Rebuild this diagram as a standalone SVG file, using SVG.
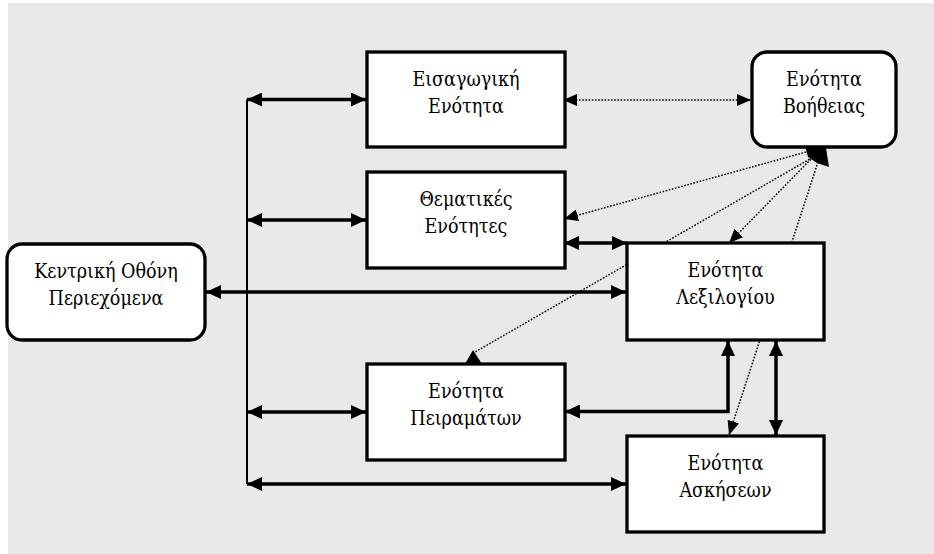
<svg xmlns="http://www.w3.org/2000/svg" width="934" height="554" viewBox="0 0 934 554">
<defs>
<style>
.box{fill:#fff;stroke:#000;stroke-width:3.3}
.t{font-family:"DejaVu Serif Condensed","DejaVu Serif",serif;font-stretch:condensed;font-size:19.5px;fill:#000;text-anchor:middle}
.s{fill:none;stroke:#000;stroke-width:3.5}
.d{fill:none;stroke:#000;stroke-width:1.5;stroke-dasharray:1.6 1.6}
</style>
<marker id="ah" markerUnits="userSpaceOnUse" markerWidth="15" markerHeight="14" refX="15" refY="7" orient="auto-start-reverse" viewBox="0 0 15 14">
<path d="M0,0 L15,7 L0,14 z" fill="#000"/>
</marker>
<marker id="dh" markerUnits="userSpaceOnUse" markerWidth="14" markerHeight="12" refX="14" refY="6" orient="auto-start-reverse" viewBox="0 0 14 12">
<path d="M0,0 L14,6 L0,12 z" fill="#000"/>
</marker>
</defs>
<rect x="8" y="3" width="926" height="551" fill="#e9e9e9"/>
<g id="connectors">
<line class="s" x1="247" y1="99.5" x2="247" y2="484" style="stroke-width:2"/>
<line class="s" x1="247" y1="99.5" x2="366" y2="99.5" marker-start="url(#ah)" marker-end="url(#ah)"/>
<line class="s" x1="247" y1="220" x2="366" y2="220" marker-start="url(#ah)" marker-end="url(#ah)"/>
<line class="s" x1="247" y1="412" x2="366" y2="412" marker-start="url(#ah)" marker-end="url(#ah)"/>
<line class="s" x1="247" y1="484" x2="626" y2="484" marker-start="url(#ah)" marker-end="url(#ah)"/>
<line class="s" x1="206" y1="292" x2="626" y2="292" marker-start="url(#ah)" marker-end="url(#ah)"/>
<line class="s" x1="564" y1="243" x2="627" y2="243" marker-start="url(#ah)" marker-end="url(#ah)"/>
<path class="s" d="M728,341 V411.5 H565" marker-start="url(#ah)" marker-end="url(#ah)"/>
<line class="s" x1="776" y1="341" x2="776" y2="435" marker-start="url(#ah)" marker-end="url(#ah)"/>
<line class="d" x1="563" y1="100" x2="751" y2="100" marker-start="url(#dh)" marker-end="url(#dh)"/>
<line class="d" x1="806" y1="152" x2="564" y2="219" marker-end="url(#dh)"/>
<line class="d" x1="815" y1="156" x2="475" y2="352"/>
<polygon points="465,364 473,350 482,364" fill="#000"/>
<line class="d" x1="813" y1="157" x2="729" y2="243" marker-end="url(#dh)"/>
<line class="d" x1="818" y1="162" x2="729" y2="435" marker-end="url(#dh)"/>
<polygon points="804,142 826,148 829,167 817,163 808,157" fill="#000"/>
</g>
<g id="eisagogiki">
<rect class="box" x="367" y="52" width="198" height="95"/>
<text class="t" x="466" y="86">Εισαγωγική</text>
<text class="t" x="466" y="113">Ενότητα</text>
</g>
<g id="voitheias">
<rect class="box" x="752" y="52" width="144" height="95" rx="15" ry="15"/>
<text class="t" x="824" y="86">Ενότητα</text>
<text class="t" x="824" y="113">Βοήθειας</text>
</g>
<g id="thematikes">
<rect class="box" x="367" y="172" width="198" height="96"/>
<text class="t" x="466" y="206">Θεματικές</text>
<text class="t" x="466" y="233">Ενότητες</text>
</g>
<g id="kentriki">
<rect class="box" x="7" y="244" width="198" height="96" rx="15" ry="15"/>
<text class="t" x="106" y="278">Κεντρική Οθόνη</text>
<text class="t" x="106" y="305">Περιεχόμενα</text>
</g>
<g id="lexilogiou">
<rect class="box" x="627" y="243" width="197" height="97"/>
<text class="t" x="725.5" y="277">Ενότητα</text>
<text class="t" x="725.5" y="304">Λεξιλογίου</text>
</g>
<g id="peiramaton">
<rect class="box" x="367" y="364" width="198" height="96"/>
<text class="t" x="466" y="398">Ενότητα</text>
<text class="t" x="466" y="425">Πειραμάτων</text>
</g>
<g id="askiseon">
<rect class="box" x="627" y="436" width="197" height="96"/>
<text class="t" x="725.5" y="470">Ενότητα</text>
<text class="t" x="725.5" y="497">Ασκήσεων</text>
</g>
</svg>
